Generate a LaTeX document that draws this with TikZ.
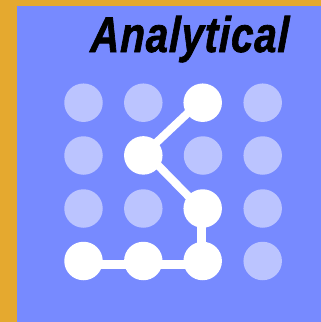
\documentclass[tikz,border=0pt]{standalone}
\usepackage{fontspec}
\setmainfont{Liberation Sans}
\newfontfamily\titlefont[LetterSpace=2.6,FakeBold=1.6,FakeSlant=0.04]{Liberation Sans Bold Italic}
\definecolor{frameor}{HTML}{E5A92F}
\definecolor{panelbl}{HTML}{778AFF}
\definecolor{dimdot}{HTML}{BBC4FF}
\tikzset{
  dimnode/.style={circle,fill=dimdot,minimum size=38.5pt,inner sep=0pt},
  litnode/.style={circle,fill=white,minimum size=38.5pt,inner sep=0pt},
  linkline/.style={draw=white,line width=8.5pt}
}
\begin{document}
\begin{tikzpicture}[x=1pt,y=-1pt]
\useasboundingbox (0,0) rectangle (321,322);
\fill[frameor] (0,0) rectangle (321,322);
\fill[panelbl] (17,5.5) rectangle (321,322);
\node[anchor=base west,inner sep=0pt,xscale=0.8,font=\fontsize{50}{50}\titlefont] (title) at (90,52) {Analytical};
\node[dimnode] (a1) at (83.5,102.7) {};
\node[dimnode] (a2) at (143.3,102.7) {};
\node[dimnode] (a4) at (262.7,102.7) {};
\node[dimnode] (b1) at (83.5,155.5) {};
\node[dimnode] (b3) at (203,155.5) {};
\node[dimnode] (b4) at (262.7,155.5) {};
\node[dimnode] (c1) at (83.5,208.5) {};
\node[dimnode] (c2) at (143.3,208.5) {};
\node[dimnode] (c4) at (262.7,208.5) {};
\node[dimnode] (d4) at (262.7,261) {};
\coordinate (a3) at (202.7,102.7);
\coordinate (b2) at (143.3,155.4);
\coordinate (c3) at (202.7,208.5);
\coordinate (d1) at (83.5,261);
\coordinate (d2) at (143.3,261);
\coordinate (d3) at (202.7,261);
\draw[linkline,line width=8pt] ([shift={(0,-0.5)}]b2) -- ([shift={(0,-3.7)}]a3);
\draw[linkline,line width=8pt] ([shift={(6.7,1.7)}]b2) -- ([shift={(-7.7,-5.5)}]c3);
\draw[linkline] ([shift={(-1.4,0)}]c3) -- ([shift={(-1.4,0)}]d3);
\draw[linkline] ([shift={(0,3.7)}]d3) -- ([shift={(0,3.7)}]d2);
\draw[linkline] ([shift={(0,3.7)}]d2) -- ([shift={(0,3.7)}]d1);
\node[litnode] (na3) at (a3) {};
\node[litnode] (nb2) at (b2) {};
\node[litnode] (nc3) at (c3) {};
\node[litnode] (nd1) at (d1) {};
\node[litnode] (nd2) at (d2) {};
\node[litnode] (nd3) at (d3) {};
\end{tikzpicture}
\end{document}
